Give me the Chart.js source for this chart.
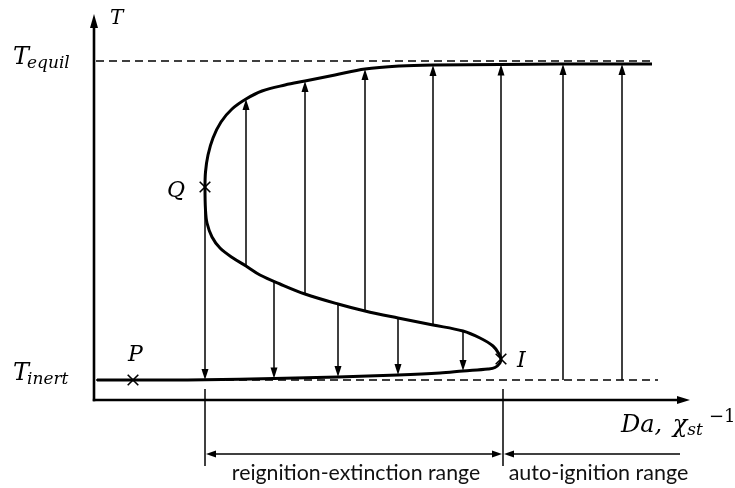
<!DOCTYPE html>
<html>
<head>
<meta charset="utf-8">
<script src="https://cdn.jsdelivr.net/npm/chart.js@4/dist/chart.umd.min.js"></script>
<style>
  html, body { margin: 0; padding: 0; background: #fff; }
  #wrap { width: 735px; height: 488px; }
</style>
</head>
<body>
<div id="wrap"><canvas id="c" width="735" height="488"></canvas></div>
<script>
// S-shaped response of a steady flamelet: temperature T against Da (or 1/χst).
// Lower branch (P → I), middle unstable branch (I → Q), upper burning branch (Q → equilibrium).
const curveDa = [3, 39, 76, 111, 180, 244, 304, 346, 369, 394, 401, 406, 407, 405, 399, 386, 369, 339, 304, 271, 244, 211, 186, 166, 152, 139, 126, 118, 113, 111.5, 111, 111.5, 114, 119, 127, 138, 152, 168, 191, 211, 241, 271, 306, 339, 406, 466, 558];
const curveT  = [20, 20, 20, 20.2, 21.5, 23, 25, 27, 29, 31, 32.5, 37, 41, 46, 54, 62, 69, 75, 82, 89, 96, 106, 116, 125, 134, 142, 152, 163, 177, 190, 212, 228, 245, 262, 278, 291, 301, 309, 315, 319, 325, 331, 334, 335, 335.5, 336, 336];

// Reference temperature levels
const levelNames = ['inert', 'equil'];
const levelT     = [20, 339];
const levelEnd   = [564, 561];

// Jumps up to the burning branch (ignition) and down to the inert branch (extinction)
const ignitionDa   = [152, 211, 271, 339, 407, 469, 528];
const ignitionFrom = [134, 106, 89, 75, 41, 20, 20];
const ignitionTo   = [301, 319, 331, 335, 335.5, 336, 336];
const extinctionDa   = [111, 180, 244, 304, 369];
const extinctionFrom = [212, 118.5, 96, 82, 69];
const extinctionTo   = [20, 21.5, 23, 25, 29];

// Marked states
const markerNames = ['P', 'Q', 'I'];
const markerDa    = [39, 111, 407];
const markerT     = [20, 213, 41];

// Ranges along the Da axis
const rangeNames = ['reignition-extinction range', 'auto-ignition range'];
const rangeStart = [111, 409];
const rangeEnd   = [409, 586];

const axisDaMax = 596;
const axisTMax = 386;

const BLACK = '#000';
const SERIF = '"DejaVu Serif", serif';
const SANS = 'Lato, "Open Sans", sans-serif';

function arrow(ctx, x1, y1, x2, y2, len, half, lw) {
  const dx = x2 - x1, dy = y2 - y1;
  const d = Math.hypot(dx, dy) || 1;
  const ux = dx / d, uy = dy / d;
  const bx = x2 - ux * len, by = y2 - uy * len;
  ctx.lineWidth = lw;
  ctx.beginPath();
  ctx.moveTo(x1, y1);
  ctx.lineTo(bx + ux * 1, by + uy * 1);
  ctx.stroke();
  ctx.beginPath();
  ctx.moveTo(x2, y2);
  ctx.lineTo(bx - uy * half, by + ux * half);
  ctx.lineTo(bx + uy * half, by - ux * half);
  ctx.closePath();
  ctx.fill();
}

function text(ctx, s, x, y, font, align) {
  ctx.font = font;
  ctx.textAlign = align || 'left';
  ctx.textBaseline = 'alphabetic';
  ctx.fillText(s, x, y);
  return ctx.measureText(s).width;
}

const diagram = {
  id: 'diagram',
  beforeDatasetsDraw(chart) {
    const ctx = chart.ctx;
    const X = v => chart.scales.x.getPixelForValue(v);
    const Y = v => chart.scales.y.getPixelForValue(v);
    ctx.save();
    ctx.strokeStyle = BLACK;
    ctx.fillStyle = BLACK;
    ctx.lineCap = 'butt';
    // axes
    arrow(ctx, X(0), Y(0) + 1.2, X(0), Y(axisTMax), 14, 4, 2.6);
    arrow(ctx, X(0) - 1.2, Y(0), X(axisDaMax), Y(0), 13, 4, 2.6);
    ctx.restore();
  },
  afterDatasetsDraw(chart) {
    const ctx = chart.ctx;
    const X = v => chart.scales.x.getPixelForValue(v);
    const Y = v => chart.scales.y.getPixelForValue(v);
    ctx.save();
    ctx.strokeStyle = BLACK;
    ctx.fillStyle = BLACK;

    // jump arrows
    ignitionDa.forEach((d, i) => arrow(ctx, X(d), Y(ignitionFrom[i]), X(d), Y(ignitionTo[i]), 11, 3.5, 1.5));
    extinctionDa.forEach((d, i) => arrow(ctx, X(d), Y(extinctionFrom[i]), X(d), Y(extinctionTo[i]), 11, 3.5, 1.5));

    // range dimension lines
    const tickTop = Y(11), tickBot = Y(-66), ry = Y(-54);
    ctx.lineWidth = 1.5;
    [rangeStart[0], rangeStart[1]].forEach(d => {
      ctx.beginPath(); ctx.moveTo(X(d), tickTop); ctx.lineTo(X(d), tickBot); ctx.stroke();
    });
    const mid0 = (X(rangeStart[0]) + X(rangeEnd[0])) / 2;
    arrow(ctx, mid0, ry, X(rangeEnd[0]) - 1, ry, 10, 3.5, 1.5);
    arrow(ctx, mid0, ry, X(rangeStart[0]) + 1, ry, 10, 3.5, 1.5);
    arrow(ctx, X(rangeEnd[1]), ry, X(rangeStart[1]) + 1, ry, 10, 3.5, 1.5);
    ctx.fillStyle = '#111';
    text(ctx, rangeNames[0], mid0 + 2, Y(-80), '21.3px ' + SANS, 'center');
    text(ctx, rangeNames[1], (X(rangeStart[1]) + X(rangeEnd[1])) / 2 + 7, Y(-80), '21.5px ' + SANS, 'center');

    // axis titles
    ctx.fillStyle = BLACK;
    text(ctx, 'T', X(16), Y(376), 'italic 20px ' + SERIF);
    let x = X(-81);
    const w1 = text(ctx, 'T', x, Y(levelT[1]) + 3, 'italic 24px ' + SERIF);
    text(ctx, levelNames[1], x + w1 - 2, Y(levelT[1]) + 7, 'italic 17px ' + SERIF);
    const w2 = text(ctx, 'T', x, Y(levelT[0]), 'italic 24px ' + SERIF);
    text(ctx, levelNames[0], x + w2 - 2, Y(levelT[0]) + 4, 'italic 17px ' + SERIF);

    // Da, χst^-1
    x = X(527);
    x += text(ctx, 'Da, ', x, Y(-32), 'italic 24px ' + SERIF) + 3;
    x += text(ctx, 'χ', x, Y(-32), 'italic 24px ' + SERIF);
    x += text(ctx, 'st', x, Y(-35), 'italic 17px ' + SERIF) + 6;
    text(ctx, '−1', x, Y(-22), '18px ' + SERIF);

    // marker labels
    const off = [[-5, 19], [-38, -10], [16, -8]];
    markerNames.forEach((n, i) => {
      text(ctx, n, X(markerDa[i]) + off[i][0], Y(markerT[i]) - off[i][1], 'italic 22px ' + SERIF);
    });
    ctx.restore();
  }
};

const datasets = [
  {
    data: curveDa.map((d, i) => ({ x: d, y: curveT[i] })),
    showLine: true, borderColor: BLACK, borderWidth: 3, tension: 0.35,
    pointRadius: 0, fill: false, order: 1
  }
];
levelT.forEach((t, i) => datasets.push({
  data: [{ x: 2, y: t }, { x: levelEnd[i], y: t }],
  showLine: true, borderColor: BLACK, borderWidth: 1.5, borderDash: [8, 5],
  pointRadius: 0, fill: false, order: 2
}));
datasets.push({
  data: markerDa.map((d, i) => ({ x: d, y: markerT[i] })),
  showLine: false, pointStyle: 'crossRot', pointRadius: 7.5,
  borderColor: BLACK, borderWidth: 1.6, backgroundColor: BLACK, order: 0
});

new Chart(document.getElementById('c'), {
  type: 'scatter',
  data: { datasets },
  options: {
    responsive: false,
    animation: false,
    events: [],
    layout: { padding: 0, autoPadding: false },
    plugins: { legend: { display: false }, tooltip: { enabled: false } },
    scales: {
      x: { type: 'linear', min: -94, max: 641, display: false },
      y: { type: 'linear', min: -88, max: 400, display: false }
    }
  },
  plugins: [diagram]
});
</script>
</body>
</html>
